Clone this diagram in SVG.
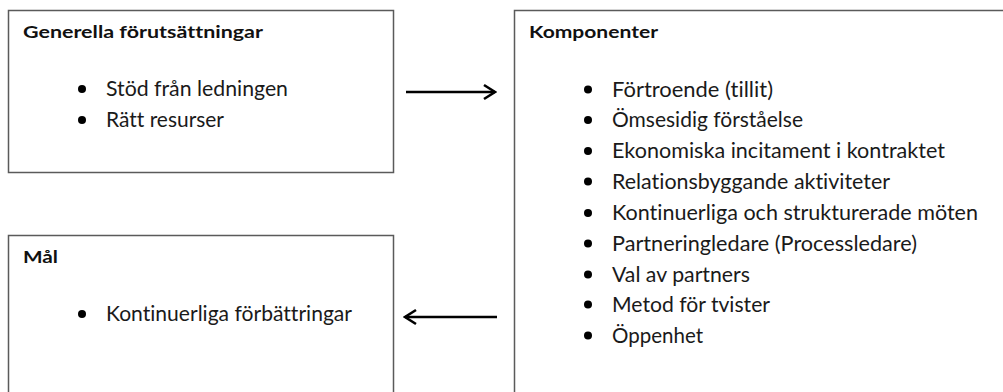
<svg xmlns="http://www.w3.org/2000/svg" width="1003" height="392" viewBox="0 0 1003 392">
<style>
.box{fill:#fff;stroke:#5a5a5a;stroke-width:1.5}
text{font-variant-ligatures:none;font-feature-settings:"liga" 0,"clig" 0}
.t{font-family:Lato,"Open Sans","Liberation Sans",sans-serif;font-weight:bold;font-size:17.5px;fill:#111}
.i{font-family:Lato,"Open Sans","Liberation Sans",sans-serif;font-size:20.5px;fill:#1a1a1a}
.b{fill:#000}
.c{stroke:#000;stroke-width:2.6;fill:none}
</style>
<defs>
<marker id="ah" viewBox="0 0 16 18" refX="14" refY="9" markerWidth="16" markerHeight="18" markerUnits="userSpaceOnUse" orient="auto">
<polyline points="3,2 14,9 3,16" fill="none" stroke="#000" stroke-width="2.6" stroke-linejoin="miter"/>
</marker>
</defs>
<rect width="1003" height="392" fill="#fff"/>
<g id="generella">
<rect class="box" x="8.5" y="10.5" width="385" height="162"/>
<text class="t" x="23" y="38" textLength="240" lengthAdjust="spacingAndGlyphs">Generella förutsättningar</text>
<circle class="b" cx="82" cy="89" r="4"/>
<text class="i" x="106" y="96" textLength="182" lengthAdjust="spacingAndGlyphs">Stöd från ledningen</text>
<circle class="b" cx="82" cy="120" r="4"/>
<text class="i" x="106" y="127" textLength="118" lengthAdjust="spacingAndGlyphs">Rätt resurser</text>
</g>
<g id="komponenter">
<rect class="box" x="514.5" y="10.5" width="500" height="400"/>
<text class="t" x="529" y="38" textLength="129" lengthAdjust="spacingAndGlyphs">Komponenter</text>
<circle class="b" cx="588" cy="89.5" r="4"/>
<text class="i" x="612" y="96.5" textLength="161" lengthAdjust="spacingAndGlyphs">Förtroende (tillit)</text>
<circle class="b" cx="588" cy="120" r="4"/>
<text class="i" x="612" y="127" textLength="191" lengthAdjust="spacingAndGlyphs">Ömsesidig förståelse</text>
<circle class="b" cx="588" cy="151" r="4"/>
<text class="i" x="612" y="158" textLength="333" lengthAdjust="spacingAndGlyphs">Ekonomiska incitament i kontraktet</text>
<circle class="b" cx="588" cy="181.5" r="4"/>
<text class="i" x="612" y="188.5" textLength="278" lengthAdjust="spacingAndGlyphs">Relationsbyggande aktiviteter</text>
<circle class="b" cx="588" cy="213" r="4"/>
<text class="i" x="612" y="220" textLength="366" lengthAdjust="spacingAndGlyphs">Kontinuerliga och strukturerade möten</text>
<circle class="b" cx="588" cy="243.5" r="4"/>
<text class="i" x="612" y="250.5" textLength="305" lengthAdjust="spacingAndGlyphs">Partneringledare (Processledare)</text>
<circle class="b" cx="588" cy="274.5" r="4"/>
<text class="i" x="612" y="281.5" textLength="138" lengthAdjust="spacingAndGlyphs">Val av partners</text>
<circle class="b" cx="588" cy="304.5" r="4"/>
<text class="i" x="612" y="311.5" textLength="158" lengthAdjust="spacingAndGlyphs">Metod för tvister</text>
<circle class="b" cx="588" cy="335.5" r="4"/>
<text class="i" x="612" y="342.5" textLength="91" lengthAdjust="spacingAndGlyphs">Öppenhet</text>
</g>
<g id="mal">
<rect class="box" x="8.5" y="235.5" width="385" height="180"/>
<text class="t" x="23" y="263" textLength="35" lengthAdjust="spacingAndGlyphs">Mål</text>
<circle class="b" cx="82" cy="314" r="4"/>
<text class="i" x="106" y="321" textLength="246" lengthAdjust="spacingAndGlyphs">Kontinuerliga förbättringar</text>
</g>
<g id="connectors">
<line class="c" x1="406" y1="92" x2="495" y2="92" marker-end="url(#ah)"/>
<line class="c" x1="497" y1="317" x2="405" y2="317" marker-end="url(#ah)"/>
</g>
</svg>
